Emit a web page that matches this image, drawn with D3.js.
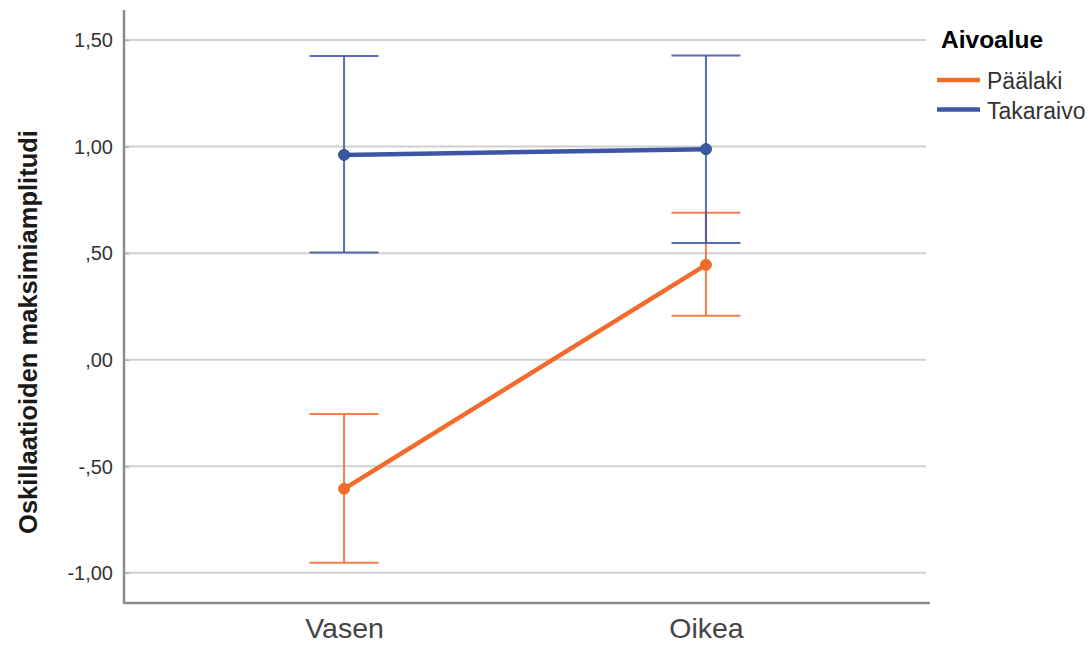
<!DOCTYPE html>
<html><head><meta charset="utf-8">
<script src="https://cdn.jsdelivr.net/npm/d3@7"></script>
<style>body{margin:0;background:#fff}svg{display:block}</style>
</head><body>
<script>
const categories = ["Vasen", "Oikea"];
const seriesNames = ["Päälaki", "Takaraivo"];
const paalakiMean = [-0.606, 0.445];
const paalakiLow = [-0.953, 0.206];
const paalakiHigh = [-0.255, 0.690];
const takaraivoMean = [0.961, 0.988];
const takaraivoLow = [0.503, 0.547];
const takaraivoHigh = [1.425, 1.427];
const yTicks = [-1.0, -0.5, 0.0, 0.5, 1.0, 1.5];
const tickLabels = ["-1,00", "-,50", ",00", ",50", "1,00", "1,50"];
const colors = ["#f36a2d", "#3d55a5"];

const FONT = "Liberation Sans, Arial, sans-serif";
const W = 1089, H = 645;
const svg = d3.select("body").append("svg").attr("width", W).attr("height", H);
const pLeft = 124, pRight = 926, pTop = 10, pBottom = 603;
const y = d3.scaleLinear().domain([-1.1416, 1.6408]).range([pBottom, pTop]);
const x = d3.scalePoint().domain(categories).range([pLeft, pRight]).padding(0.608);

// gridlines
svg.append("g").selectAll("line").data(yTicks).join("line")
  .attr("x1", pLeft).attr("x2", pRight)
  .attr("y1", d => y(d)).attr("y2", d => y(d))
  .attr("stroke", "#d0d0d0").attr("stroke-width", 2);

// y axis
const ya = svg.append("g").attr("transform", `translate(${pLeft},0)`)
  .call(d3.axisLeft(y).tickValues(yTicks).tickSize(-5).tickFormat((d, i) => tickLabels[i]));
ya.select(".domain").remove();
ya.selectAll(".tick line").attr("stroke", "#b0b0b0").attr("stroke-width", 1.5);
ya.selectAll(".tick text").attr("font-family", FONT)
  .attr("font-size", 20).attr("fill", "#333").attr("x", -11).attr("dy", "0.34em");

// x axis
const xa = svg.append("g").attr("transform", `translate(0,${pBottom})`)
  .call(d3.axisBottom(x).tickSize(0));
xa.select(".domain").remove();
xa.selectAll(".tick text").attr("font-family", FONT)
  .attr("font-size", 28.5).attr("fill", "#444").attr("y", 15).attr("dy", "0.71em");

// axis lines
svg.append("line").attr("x1", pLeft).attr("x2", pLeft).attr("y1", pTop).attr("y2", pBottom + 1)
  .attr("stroke", "#8c8c8c").attr("stroke-width", 2.5);
svg.append("line").attr("x1", pLeft).attr("x2", pRight + 4).attr("y1", pBottom).attr("y2", pBottom)
  .attr("stroke", "#8c8c8c").attr("stroke-width", 2.5);

// y label
svg.append("text").attr("transform", `translate(37,332) rotate(-90)`)
  .attr("text-anchor", "middle").attr("font-family", FONT).attr("font-weight", "bold")
  .attr("font-size", 25.5).attr("fill", "#1a1a1a").text("Oskillaatioiden maksimiamplitudi");

const series = [
  {name: seriesNames[0], mean: paalakiMean, low: paalakiLow, high: paalakiHigh, color: colors[0]},
  {name: seriesNames[1], mean: takaraivoMean, low: takaraivoLow, high: takaraivoHigh, color: colors[1]}
];
const cap = 34.5;
series.forEach(s => {
  const g = svg.append("g");
  categories.forEach((c, i) => {
    const cx = x(c);
    g.append("line").attr("x1", cx).attr("x2", cx).attr("y1", y(s.low[i])).attr("y2", y(s.high[i]))
      .attr("stroke", s.color).attr("stroke-width", 2).attr("opacity", 0.85);
    [s.low[i], s.high[i]].forEach(v => {
      g.append("line").attr("x1", cx - cap).attr("x2", cx + cap).attr("y1", y(v)).attr("y2", y(v))
        .attr("stroke", s.color).attr("stroke-width", 2).attr("opacity", 0.85);
    });
  });
});
series.forEach(s => {
  const line = d3.line().x((d, i) => x(categories[i])).y(d => y(d));
  svg.append("path").attr("d", line(s.mean)).attr("fill", "none")
    .attr("stroke", s.color).attr("stroke-width", 4.5);
  svg.append("g").selectAll("circle").data(s.mean).join("circle")
    .attr("cx", (d, i) => x(categories[i])).attr("cy", d => y(d)).attr("r", 5.5)
    .attr("fill", s.color).attr("stroke", s === series[1] ? "#1f5a6a" : s.color).attr("stroke-width", 1);
});

// legend
const lg = svg.append("g").attr("transform", "translate(937,0)");
lg.append("text").attr("x", 4).attr("y", 48).attr("font-family", FONT)
  .attr("font-size", 24.5).attr("font-weight", "bold").attr("fill", "#000").text("Aivoalue");
series.forEach((s, i) => {
  const yy = 80 + i * 29.5;
  lg.append("line").attr("x1", 0).attr("x2", 43).attr("y1", yy).attr("y2", yy)
    .attr("stroke", s.color).attr("stroke-width", 4.5);
  lg.append("text").attr("x", 50).attr("y", yy + 9).attr("font-family", FONT)
    .attr("font-size", 23).attr("fill", "#333").text(s.name);
});
</script>
</body></html>
